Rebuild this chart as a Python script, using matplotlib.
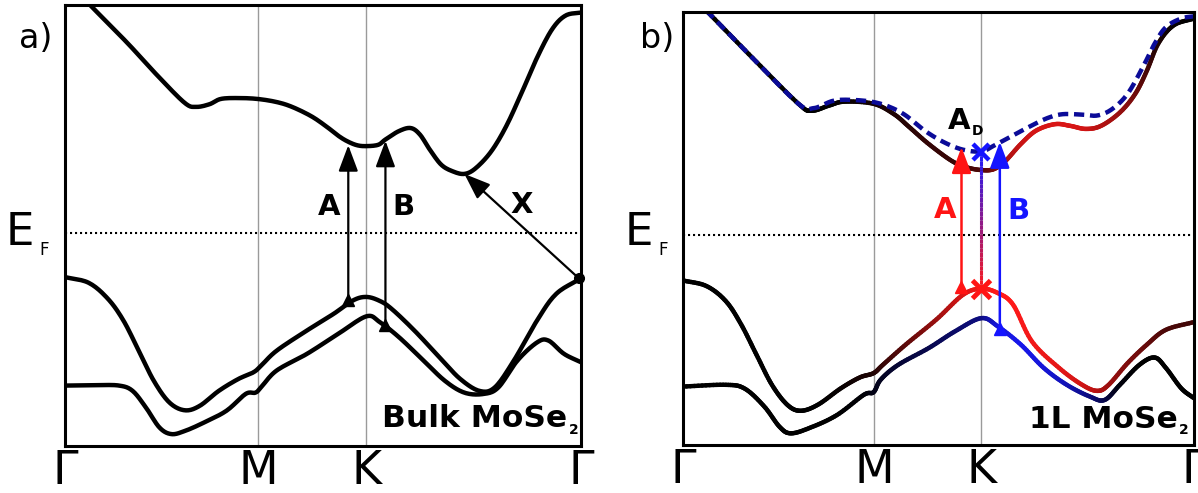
import numpy as np
import matplotlib
matplotlib.use('Agg')
import matplotlib.pyplot as plt
from matplotlib.collections import LineCollection

plt.rcParams['font.family'] = ['DejaVu Sans']
plt.rcParams['mathtext.fontset'] = 'dejavusans'

# ---------------- data (k along path Γ-M-K-Γ, relative energy) ----------------
K_TICKS = [0.0, 0.374, 0.584, 1.0]
K_LABELS = ['Γ', 'M', 'K', 'Γ']
E_F = 0.484

# panel a) bulk MoSe2
a_cb_k = [0.0, 0.051, 0.120, 0.180, 0.232, 0.254, 0.280, 0.302, 0.336, 0.373, 0.410, 0.440,
          0.477, 0.506, 0.529, 0.547, 0.566, 0.584, 0.607, 0.621, 0.647, 0.670, 0.688, 0.707,
          0.729, 0.751, 0.774, 0.796, 0.826, 0.855, 0.885, 0.915, 0.944, 0.970, 1.000]
a_cb_e = [1.059, 0.997, 0.915, 0.839, 0.778, 0.769, 0.775, 0.787, 0.789, 0.787, 0.780, 0.769,
          0.748, 0.725, 0.704, 0.691, 0.682, 0.680, 0.683, 0.695, 0.714, 0.721, 0.706, 0.672,
          0.638, 0.623, 0.617, 0.630, 0.668, 0.725, 0.801, 0.881, 0.945, 0.976, 0.983]

a_vb1_k = [0.0, 0.046, 0.083, 0.113, 0.143, 0.172, 0.202, 0.232, 0.261, 0.298, 0.336, 0.365,
           0.380, 0.410, 0.469, 0.521, 0.558, 0.584, 0.610, 0.633, 0.677, 0.729, 0.766, 0.803,
           0.833, 0.870, 0.915, 0.952, 1.000]
a_vb1_e = [0.383, 0.370, 0.334, 0.285, 0.216, 0.148, 0.099, 0.081, 0.091, 0.125, 0.152, 0.167,
           0.182, 0.216, 0.262, 0.300, 0.330, 0.338, 0.329, 0.311, 0.262, 0.197, 0.152, 0.125,
           0.133, 0.194, 0.285, 0.345, 0.380]

a_vb2_k = [0.0, 0.061, 0.105, 0.131, 0.157, 0.183, 0.206, 0.232, 0.269, 0.313, 0.350, 0.369,
           0.380, 0.410, 0.469, 0.529, 0.584, 0.610, 0.647, 0.692, 0.736, 0.774, 0.811, 0.840,
           0.877, 0.915, 0.937, 0.967, 1.000]
a_vb2_e = [0.137, 0.138, 0.137, 0.125, 0.087, 0.042, 0.027, 0.034, 0.053, 0.080, 0.118, 0.121,
           0.133, 0.171, 0.209, 0.254, 0.294, 0.281, 0.247, 0.197, 0.148, 0.121, 0.118, 0.133,
           0.194, 0.235, 0.239, 0.209, 0.190]

# transitions in a): (k_start, E_start, k_end, E_end)
a_trans_A = (0.549, 0.330, 0.549, 0.682)
a_trans_B = (0.621, 0.274, 0.621, 0.692)
a_trans_X = (0.996, 0.380, 0.774, 0.617)

# panel b) monolayer MoSe2
b_cb_k = [0.0, 0.050, 0.136, 0.226, 0.252, 0.286, 0.316, 0.373, 0.413, 0.443, 0.481, 0.526,
          0.556, 0.584, 0.608, 0.631, 0.661, 0.691, 0.728, 0.758, 0.788, 0.818, 0.855, 0.885,
          0.908, 0.930, 0.960, 1.000]
b_cb_e = [1.058, 0.998, 0.894, 0.788, 0.772, 0.784, 0.793, 0.788, 0.764, 0.734, 0.695, 0.656,
          0.641, 0.635, 0.637, 0.656, 0.695, 0.726, 0.741, 0.737, 0.730, 0.737, 0.768, 0.811,
          0.865, 0.927, 0.969, 0.985]
b_cb_w = [0.0, 0.0, 0.0, 0.0, 0.0, 0.0, 0.03, 0.08, 0.12, 0.16, 0.2, 0.22,
          0.26, 0.3, 0.45, 0.65, 0.78, 0.83, 0.85, 0.85, 0.82, 0.72, 0.6, 0.45,
          0.28, 0.12, 0.03, 0.0]

b_cbd_k = [0.0, 0.050, 0.136, 0.226, 0.256, 0.294, 0.331, 0.373, 0.406, 0.436, 0.473, 0.511,
           0.548, 0.584, 0.608, 0.638, 0.676, 0.713, 0.743, 0.781, 0.811, 0.840, 0.870, 0.900,
           0.923, 0.945, 0.975, 1.000]
b_cbd_e = [1.058, 0.998, 0.894, 0.788, 0.778, 0.795, 0.797, 0.792, 0.780, 0.761, 0.726, 0.699,
           0.682, 0.678, 0.691, 0.710, 0.734, 0.755, 0.764, 0.763, 0.761, 0.776, 0.811, 0.873,
           0.927, 0.965, 0.985, 0.990]

b_vb1_k = [0.0, 0.046, 0.084, 0.114, 0.144, 0.174, 0.204, 0.230, 0.264, 0.309, 0.346, 0.373,
           0.391, 0.436, 0.496, 0.548, 0.584, 0.616, 0.646, 0.683, 0.736, 0.781, 0.811, 0.833,
           0.870, 0.908, 0.945, 1.000]
b_vb1_e = [0.380, 0.367, 0.332, 0.278, 0.208, 0.139, 0.093, 0.079, 0.093, 0.131, 0.156, 0.166,
           0.185, 0.232, 0.290, 0.347, 0.361, 0.351, 0.324, 0.239, 0.178, 0.139, 0.125, 0.139,
           0.189, 0.232, 0.266, 0.284]
b_vb1_w = [0.0, 0.0, 0.0, 0.0, 0.0, 0.0, 0.0, 0.0, 0.0, 0.03, 0.08, 0.12,
           0.2, 0.35, 0.6, 0.85, 0.95, 1.0, 1.0, 0.95, 0.9, 0.82, 0.72, 0.62,
           0.5, 0.4, 0.3, 0.25]

b_vb2_k = [0.0, 0.084, 0.121, 0.159, 0.189, 0.211, 0.249, 0.301, 0.354, 0.373, 0.387, 0.421,
           0.481, 0.533, 0.584, 0.616, 0.661, 0.706, 0.751, 0.796, 0.825, 0.855, 0.893, 0.923,
           0.945, 0.975, 1.000]
b_vb2_e = [0.135, 0.139, 0.130, 0.089, 0.042, 0.027, 0.040, 0.069, 0.116, 0.122, 0.151, 0.185,
           0.224, 0.263, 0.293, 0.274, 0.232, 0.178, 0.139, 0.112, 0.104, 0.139, 0.185, 0.202,
           0.178, 0.131, 0.108]
b_vb2_w = [0.0, 0.0, 0.0, 0.0, 0.0, 0.0, 0.0, 0.0, 0.03, 0.08, 0.12, 0.2,
           0.3, 0.4, 0.5, 0.85, 0.92, 0.85, 0.72, 0.5, 0.3, 0.05, 0.0, 0.0,
           0.0, 0.0, 0.0]

b_trans_A = (0.545, 0.365, 0.545, 0.688)
b_trans_AD = (0.584, 0.361, 0.584, 0.677)
b_trans_B = (0.620, 0.268, 0.620, 0.700)

RED = np.array([1.0, 0.10, 0.10])
BLUE = np.array([0.10, 0.10, 1.0])
NAVY = '#0b0b98'
LW = 3.2

# ---------------- figure ----------------
W, H = 1198, 493
fig = plt.figure(figsize=(W / 100, H / 100), dpi=100)
axL = fig.add_axes([65 / W, 1 - 446 / H, 516 / W, 441 / H])
axR = fig.add_axes([683 / W, 1 - 445 / H, 511 / W, 433 / H])


def smooth(k, e, w=None, n=12):
    """Catmull-Rom rendering of the read points (drawing aid only)."""
    k = np.asarray(k, float); e = np.asarray(e, float)
    P = np.column_stack([k, e])
    Pp = np.vstack([2 * P[0] - P[1], P, 2 * P[-1] - P[-2]])
    xs, ys, ws = [], [], []
    for i in range(1, len(Pp) - 2):
        p0, p1, p2, p3 = Pp[i - 1], Pp[i], Pp[i + 1], Pp[i + 2]
        t = np.linspace(0, 1, n, endpoint=False)[:, None]
        c = 0.5 * ((2 * p1) + (-p0 + p2) * t + (2 * p0 - 5 * p1 + 4 * p2 - p3) * t ** 2
                   + (-p0 + 3 * p1 - 3 * p2 + p3) * t ** 3)
        xs.append(c[:, 0]); ys.append(c[:, 1])
        if w is not None:
            ws.append(w[i - 1] + (w[i] - w[i - 1]) * t[:, 0])
    xs.append([k[-1]]); ys.append([e[-1]])
    if w is not None:
        ws.append([w[-1]])
        return np.concatenate(xs), np.concatenate(ys), np.concatenate(ws)
    return np.concatenate(xs), np.concatenate(ys)


def setup(ax):
    ax.set_xlim(0, 1)
    ax.set_ylim(0, 1)
    ax.set_xticks(K_TICKS)
    ax.set_xticklabels(K_LABELS, fontsize=33)
    ax.set_yticks([])
    ax.tick_params(axis='x', length=0, pad=2)
    for s in ax.spines.values():
        s.set_linewidth(2.2)
        s.set_zorder(10)
    for k in K_TICKS[1:3]:
        ax.axvline(k, color='#9a9a9a', lw=1.0, zorder=1)
    ax.axhline(E_F, color='k', lw=1.5, ls=(0, (1, 1.4)), zorder=1)


def band(ax, k, e, color='k', **kw):
    xs, ys = smooth(k, e)
    ax.plot(xs, ys, color=color, lw=LW, solid_capstyle='round',
            solid_joinstyle='round', zorder=3, **kw)


def grad_band(ax, k, e, w, base):
    xs, ys, ws = smooth(k, e, np.asarray(w, float))
    segs = np.stack([np.column_stack([xs[:-1], ys[:-1]]),
                     np.column_stack([xs[1:], ys[1:]])], axis=1)
    wm = 0.5 * (ws[:-1] + ws[1:])
    cols = [tuple(base * x) + (1.0,) for x in wm]
    lc = LineCollection(segs, colors=cols, linewidths=LW, capstyle='round',
                        joinstyle='round', zorder=3)
    ax.add_collection(lc)


def arrow(ax, tr, color, lw=1.6, tail=True):
    x0, y0, x1, y1 = tr
    ax.annotate('', xy=(x1, y1), xytext=(x0, y0),
                arrowprops=dict(arrowstyle='-|>,head_length=0.8,head_width=0.3',
                                color=color, lw=lw, shrinkA=0, shrinkB=0,
                                mutation_scale=20), zorder=6)
    if tail:
        ax.plot([x0], [y0], marker='^', ms=9, color=color, zorder=6)


setup(axL)
setup(axR)

# panel a
band(axL, a_cb_k, a_cb_e)
band(axL, a_vb1_k, a_vb1_e)
band(axL, a_vb2_k, a_vb2_e)
arrow(axL, a_trans_A, 'k', lw=1.6)
arrow(axL, a_trans_B, 'k', lw=1.6)
arrow(axL, a_trans_X, 'k', lw=1.6, tail=False)
axL.plot([a_trans_X[0]], [a_trans_X[1]], 'o', ms=7, color='k', zorder=6, clip_on=False)
lab = dict(fontsize=21, fontweight='bold', ha='center', va='center', zorder=7)
axL.text(0.511, 0.541, 'A', color='k', **lab)
axL.text(0.656, 0.541, 'B', color='k', **lab)
axL.text(0.886, 0.546, 'X', color='k', **lab)
axL.text(0.974, 0.042, 'Bulk MoSe', fontsize=22.5, fontweight='bold', ha='right',
         va='baseline', zorder=7)
axL.text(0.977, 0.027, '2', fontsize=10, fontweight='bold', ha='left',
         va='baseline', zorder=7)

# panel b
grad_band(axR, b_vb2_k, b_vb2_e, b_vb2_w, BLUE)
grad_band(axR, b_vb1_k, b_vb1_e, b_vb1_w, RED)
grad_band(axR, b_cb_k, b_cb_e, b_cb_w, RED)
xd, yd = smooth(b_cbd_k, b_cbd_e)
axR.plot(xd, yd, color=NAVY, lw=LW, ls=(0, (2.3, 1.3)), zorder=4)

arrow(axR, b_trans_A, '#ff1414', lw=1.8)
arrow(axR, b_trans_B, '#1414ff', lw=1.8)
# A_D: gradient red -> blue vertical line
x0, y0, x1, y1 = b_trans_AD
n = 30
ys = np.linspace(y0, y1, n + 1)
segs = [[(x0, ys[i]), (x1, ys[i + 1])] for i in range(n)]
cols = []
for i in range(n):
    t = (i + 0.5) / n
    c = RED * (1 - t) + BLUE * t
    cols.append(tuple(c) + (1.0,))
axR.add_collection(LineCollection(segs, colors=cols, linewidths=2.2, zorder=5))
axR.plot([x0], [y0], marker='x', ms=13, mew=3.5, color='#ff1414', zorder=7)
axR.plot([x1], [y1], marker='x', ms=11, mew=3.2, color='#1414ff', zorder=7)

axR.text(0.512, 0.542, 'A', color='#ff1414', **lab)
axR.text(0.657, 0.541, 'B', color='#1414ff', **lab)
axR.text(0.540, 0.749, 'A', color='k', **lab)
axR.text(0.577, 0.726, 'D', color='k', fontsize=10, fontweight='bold', ha='center',
         va='center', zorder=7)
axR.text(0.968, 0.040, '1L MoSe', fontsize=22.5, fontweight='bold', ha='right',
         va='baseline', zorder=7)
axR.text(0.971, 0.025, '2', fontsize=10, fontweight='bold', ha='left',
         va='baseline', zorder=7)

# E_F labels and panel letters
for xe in (6, 625):
    fig.text(xe / W, 1 - 245 / H, 'E', fontsize=32.5, ha='left', va='baseline')
    fig.text((xe + 33) / W, 1 - 255 / H, 'F', fontsize=12, ha='left', va='baseline')
fig.text(19 / W, 1 - 48 / H, 'a)', fontsize=24, ha='left', va='baseline')
fig.text(640 / W, 1 - 48 / H, 'b)', fontsize=24, ha='left', va='baseline')

fig.savefig('out.png', dpi=100)
